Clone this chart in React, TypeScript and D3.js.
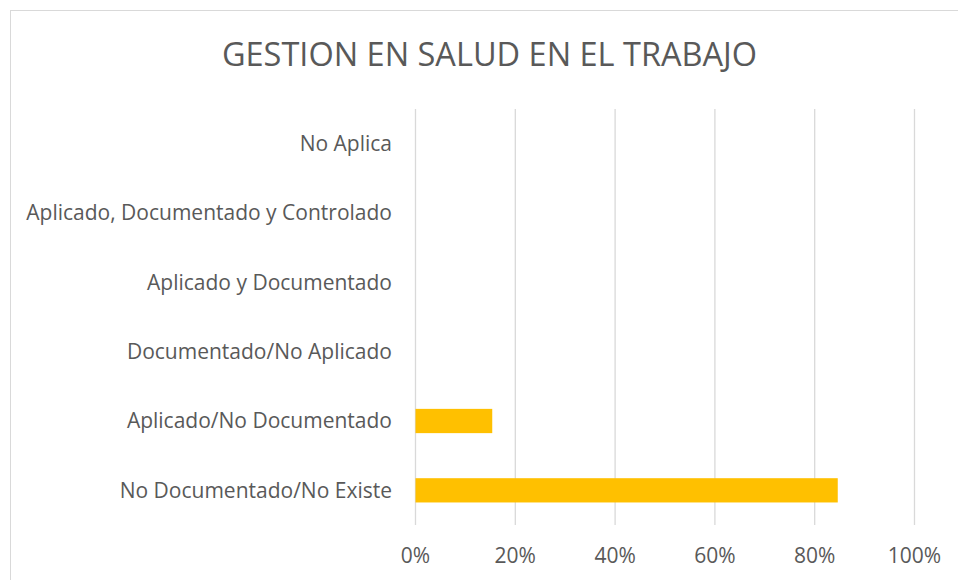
import React from "react";
import * as d3 from "d3";

const categories = [
  "No Aplica",
  "Aplicado, Documentado y Controlado",
  "Aplicado y Documentado",
  "Documentado/No Aplicado",
  "Aplicado/No Documentado",
  "No Documentado/No Existe",
];
const values = [0, 0, 0, 0, 0.1538, 0.8462];
const ticks = [0, 0.2, 0.4, 0.6, 0.8, 1.0];
const title = "GESTION EN SALUD EN EL TRABAJO";

export default function App() {
  const W = 958, H = 580;
  const x = d3.scaleLinear().domain([0, 1]).range([415.5, 914.5]);
  const y = d3.scaleBand().domain(categories).range([109, 525]).paddingInner(0.65).paddingOuter(0.325);
  const font = "'Open Sans', sans-serif";
  const fmt = d3.format(".0%");
  return (
    <svg width={W} height={H} style={{ position: "absolute", left: 0, top: 0 }}>
      <rect x={0} y={0} width={W} height={H} fill="#fff" />
      <rect x={10.5} y={10.5} width={W + 10} height={H + 10} fill="none" stroke="#d9d9d9" strokeWidth={1} />
      <text x={489.5} y={66} textAnchor="middle" fontFamily={font} fontSize={32.5} fill="#595959">{title}</text>
      {ticks.map((t) => (
        <line key={t} x1={x(t)} x2={x(t)} y1={109} y2={525} stroke="#d9d9d9" strokeWidth={1.3} />
      ))}
      {categories.map((c, i) => (
        <rect key={c} x={x(0)} y={y(c)!} width={x(values[i]) - x(0)} height={y.bandwidth()} fill="#ffc000" />
      ))}
      {categories.map((c) => (
        <text key={c} x={392} y={y(c)! + y.bandwidth() / 2} dy="0.35em" textAnchor="end" fontFamily={font} fontSize={21} fill="#595959">{c}</text>
      ))}
      {ticks.map((t) => (
        <text key={t} x={x(t)} y={556} dy="0.35em" textAnchor="middle" fontFamily={font} fontSize={21} fill="#595959">{fmt(t)}</text>
      ))}
    </svg>
  );
}
